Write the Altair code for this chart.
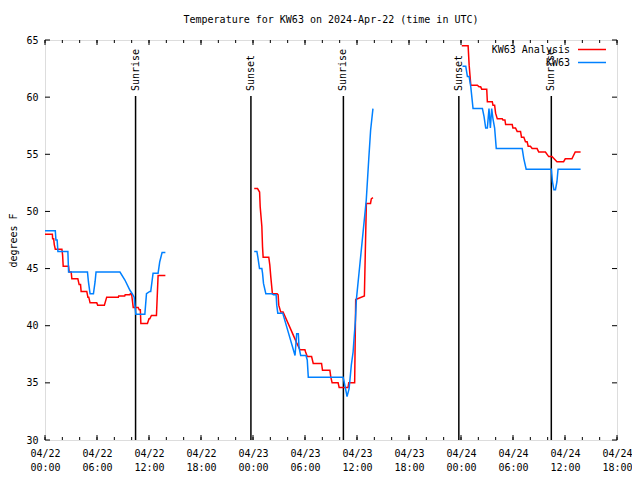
import altair as alt
import pandas as pd

# ---------------- data (hours since 2024-04-22 00:00 UTC, degrees F) -------------
series_names = ["KW63 Analysis", "KW63"]
series_colors = ["#ff0000", "#0080ff"]

ana_h1 = [0.0, 0.85, 0.88, 1.0, 1.07, 1.19, 1.95, 2.03, 2.1, 2.72, 2.79, 3.02, 3.1, 3.79, 3.94,
          4.1, 4.17, 4.82, 4.95, 5.05, 5.2, 5.97, 6.08, 6.85, 7.12, 8.46, 8.5, 9.2, 9.25, 9.8,
          9.85, 9.99, 10.1, 10.18, 10.75, 10.87, 11.0, 11.06, 11.82, 12.0, 12.09, 12.28, 12.86,
          13.05, 13.89]
ana_t1 = [48.0, 48.0, 47.6, 47.6, 47.1, 46.7, 46.7, 46.2, 45.2, 45.2, 44.7, 44.7, 44.1, 44.1, 43.6,
          43.6, 43.0, 43.0, 42.5, 42.5, 42.0, 42.0, 41.8, 41.8, 42.5, 42.5, 42.6, 42.6, 42.7, 42.7,
          42.8, 42.8, 42.1, 41.6, 41.6, 41.4, 41.4, 40.2, 40.2, 40.6, 40.6, 40.9, 40.9,
          44.4, 44.4]
ana_h2 = [24.14, 24.52, 24.76, 24.83, 25.02, 25.1, 25.17, 25.82, 25.94, 26.05, 26.24, 26.78, 26.9,
          26.97, 27.2, 27.47, 28.23, 29.04, 29.42, 29.99, 30.07, 30.26, 30.76, 30.95, 31.91, 32.02,
          32.87, 32.98, 33.13, 33.82, 33.94, 34.97, 35.05, 35.73, 35.85, 36.85, 37.08, 37.56, 37.65,
          37.84]
ana_t2 = [52.0, 52.0, 51.7, 50.4, 48.7, 46.9, 46.0, 46.0, 45.3, 44.3, 42.8, 42.8, 42.7,
          41.8, 41.2, 41.2, 39.9, 38.5, 37.9, 37.9, 37.7, 37.3, 37.3, 36.7, 36.7, 36.1,
          36.1, 35.5, 35.0, 35.0, 34.6, 34.6, 35.0, 35.0, 42.3, 42.6, 50.7, 50.7, 51.1,
          51.2]
ana_h3 = [48.09, 48.82, 48.94, 49.13, 49.89, 50.08, 50.27, 50.39, 50.97, 51.04, 51.61, 51.69, 51.88,
          51.99, 52.19, 52.76, 52.84, 53.07, 53.15, 53.91, 53.99, 54.29, 54.48, 54.87, 54.98, 55.25,
          55.44, 55.63, 55.75, 56.01, 56.21, 56.78, 56.97, 57.74, 58.12, 58.5, 59.07, 59.84, 60.03,
          60.8, 61.18, 61.8]
ana_t3 = [64.5, 64.5, 62.8, 61.05, 61.05, 60.9, 60.9, 60.7, 60.7, 59.6, 59.6, 59.3, 59.3,
          58.6, 58.1, 58.1, 58.0, 58.0, 57.6, 57.6, 57.3, 57.3, 57.0, 57.0, 56.5, 56.5,
          56.1, 56.1, 55.7, 55.7, 55.5, 55.5, 55.2, 55.2, 54.8, 54.8, 54.35, 54.35, 54.6,
          54.6, 55.2, 55.2]

obs_h1 = [0.0, 1.19, 1.26, 1.4, 1.49, 2.64, 2.72, 4.9, 5.01, 5.2, 5.59, 5.78, 5.89, 8.65, 9.22,
          9.8, 10.06, 10.29, 10.37, 10.48, 11.52, 11.71, 12.09, 12.2, 12.47, 13.05, 13.24, 13.51,
          13.89]
obs_t1 = [48.3, 48.3, 47.5, 47.5, 46.5, 46.5, 44.7, 44.7, 43.85, 42.8, 42.8, 43.85, 44.7, 44.7, 44.0,
          43.1, 42.8, 42.5, 41.8, 41.0, 41.0, 42.8, 43.0, 43.0, 44.6, 44.6, 45.6, 46.4,
          46.4]
obs_h2 = [24.14, 24.45, 24.56, 24.75, 25.02, 25.1, 25.21, 25.48, 26.17, 26.36, 26.67, 26.74, 26.86,
          27.43, 27.89, 28.85, 29.04, 29.23, 29.31, 29.5, 30.11, 30.26, 30.38, 34.39, 34.47, 34.7,
          34.85, 35.09, 35.24, 35.35, 35.55, 35.66, 35.82, 35.93, 36.31, 36.69, 37.07, 37.35, 37.57,
          37.84]
obs_t2 = [46.5, 46.5, 46.0, 45.0, 45.0, 44.6, 43.7, 42.8, 42.8, 42.7, 42.7, 41.8, 41.1,
          41.1, 39.9, 37.4, 39.3, 39.3, 38.1, 37.4, 37.4, 37.0, 35.5, 35.5, 35.25, 34.4,
          33.8, 34.5, 35.7, 36.6, 37.7, 38.9, 40.5, 42.3, 45.2, 48.1, 51.0, 54.5, 57.1,
          59.0]
obs_h3 = [48.17, 48.55, 48.74, 48.94, 49.13, 49.39, 50.47, 50.66, 50.85, 51.04, 51.23, 51.39, 51.54,
          51.69, 51.88, 52.07, 55.06, 55.25, 55.52, 58.43, 58.55, 58.72, 58.9, 59.07, 59.2, 61.8]
obs_t3 = [62.7, 62.7, 61.8, 61.8, 60.9, 59.0, 59.0, 58.3, 57.3, 57.3, 59.0, 57.3, 59.0,
          58.1, 57.3, 55.5, 55.5, 54.6, 53.7, 53.7, 52.6, 51.9, 51.9, 52.6, 53.7, 53.7]

event_hours = [10.45, 23.76, 34.43, 47.75, 58.42]
event_labels = ["Sunrise", "Sunset", "Sunrise", "Sunset", "Sunrise"]

x_tick_hours = [0, 6, 12, 18, 24, 30, 36, 42, 48, 54, 60, 66]
x_tick_dates = ["04/22", "04/22", "04/22", "04/22", "04/23", "04/23", "04/23", "04/23",
                "04/24", "04/24", "04/24", "04/24"]
x_tick_times = ["00:00", "06:00", "12:00", "18:00", "00:00", "06:00", "12:00", "18:00",
                "00:00", "06:00", "12:00", "18:00"]
x_minor_hours = list(range(0, 67, 2))
y_ticks = [30, 35, 40, 45, 50, 55, 60, 65]

title_text = "Temperature for KW63 on 2024-Apr-22 (time in UTC)"
y_title = "degrees F"

# ---------------- build tables ----------------
rows = []
for name, seg, hs, ts in [
    (series_names[0], 1, ana_h1, ana_t1), (series_names[0], 2, ana_h2, ana_t2),
    (series_names[0], 3, ana_h3, ana_t3),
    (series_names[1], 1, obs_h1, obs_t1), (series_names[1], 2, obs_h2, obs_t2),
    (series_names[1], 3, obs_h3, obs_t3),
]:
    assert len(hs) == len(ts)
    for h, t in zip(hs, ts):
        rows.append({"series": name, "seg": f"{name}-{seg}", "hour": h, "temp": t})
df = pd.DataFrame(rows)
events = pd.DataFrame({"hour": event_hours, "label": event_labels})
xmaj = pd.DataFrame({"hour": x_tick_hours})
xmin = pd.DataFrame({"hour": x_minor_hours})
yt = pd.DataFrame({"temp": y_ticks})

FONT = "DejaVu Sans Mono"
W, H = 572, 400

xscale = alt.Scale(domain=[0, 66], nice=False, zero=False)
yscale = alt.Scale(domain=[30, 65], nice=False, zero=False)

js_dates = "[" + ",".join(f"'{d}'" for d in x_tick_dates) + "]"
js_times = "[" + ",".join(f"'{t}'" for t in x_tick_times) + "]"
label_expr = f"[{js_dates}[round(datum.value/6)], {js_times}[round(datum.value/6)]]"

x_axis = alt.Axis(values=x_tick_hours, labelExpr=label_expr, tickSize=0, domain=False,
                  grid=False, title=None, labelFont=FONT, labelFontSize=10, labelColor="black",
                  labelPadding=8, labelLineHeight=14, labelBaseline="top", labelAngle=0,
                  labelFlush=False, labelOverlap=False)
y_axis = alt.Axis(values=y_ticks, tickSize=0, domain=False, grid=False, title=y_title,
                  labelFont=FONT, labelFontSize=10, labelColor="black", labelPadding=7,
                  titleFont=FONT, titleFontSize=10, titleFontWeight="normal", titleColor="black",
                  titlePadding=7)

lines = alt.Chart(df).mark_line(strokeWidth=1.5).encode(
    x=alt.X("hour:Q", scale=xscale, axis=x_axis),
    y=alt.Y("temp:Q", scale=yscale, axis=y_axis),
    color=alt.Color("series:N", scale=alt.Scale(domain=series_names, range=series_colors),
                    legend=None),
    detail="seg:N",
)

ev_rules = alt.Chart(events).mark_rule(color="black", strokeWidth=1.5).encode(
    x=alt.X("hour:Q", scale=xscale), y=alt.value(56), y2=alt.value(H))
ev_text = alt.Chart(events).mark_text(angle=270, align="left", baseline="middle", font=FONT,
                                      fontSize=10, color="black", dx=1).encode(
    x=alt.X("hour:Q", scale=xscale), y=alt.value(52), text="label:N")

def xticks(data, y0, y1):
    return alt.Chart(data).mark_rule(color="black", strokeWidth=1).encode(
        x=alt.X("hour:Q", scale=xscale), y=alt.value(y0), y2=alt.value(y1))

def yticks(x0, x1):
    return alt.Chart(yt).mark_rule(color="black", strokeWidth=1).encode(
        y=alt.Y("temp:Q", scale=yscale), x=alt.value(x0), x2=alt.value(x1))

tick_layers = [xticks(xmin, H, H - 3), xticks(xmaj, H, H - 5),
               xticks(xmin, 0, 3), xticks(xmaj, 0, 5),
               yticks(0, 5), yticks(W, W - 5)]

leg_layers = []
for i, (name, col) in enumerate(zip(series_names, series_colors)):
    ly = 9.5 + 13 * i
    one = pd.DataFrame({"series": [name]})
    leg_layers.append(alt.Chart(one).mark_text(align="right", baseline="middle", font=FONT,
                                               fontSize=10, color="black").encode(
        x=alt.value(W - 47), y=alt.value(ly), text="series:N"))
    leg_layers.append(alt.Chart(one).mark_rule(color=col, strokeWidth=1.5).encode(
        x=alt.value(W - 39), x2=alt.value(W - 11), y=alt.value(ly)))

chart = alt.layer(ev_rules, ev_text, *tick_layers, lines, *leg_layers).properties(
    width=W, height=H,
    title=alt.Title(title_text, font=FONT, fontSize=10, fontWeight="normal", color="black",
                    anchor="middle", offset=10),
    autosize=alt.AutoSizeParams(type="none"),
    padding={"left": 37, "top": 32, "right": 15, "bottom": 32},
).configure_view(stroke="black", strokeWidth=1).configure(background="white")

chart.save("out.html", embed_options={"renderer": "svg", "actions": False})
